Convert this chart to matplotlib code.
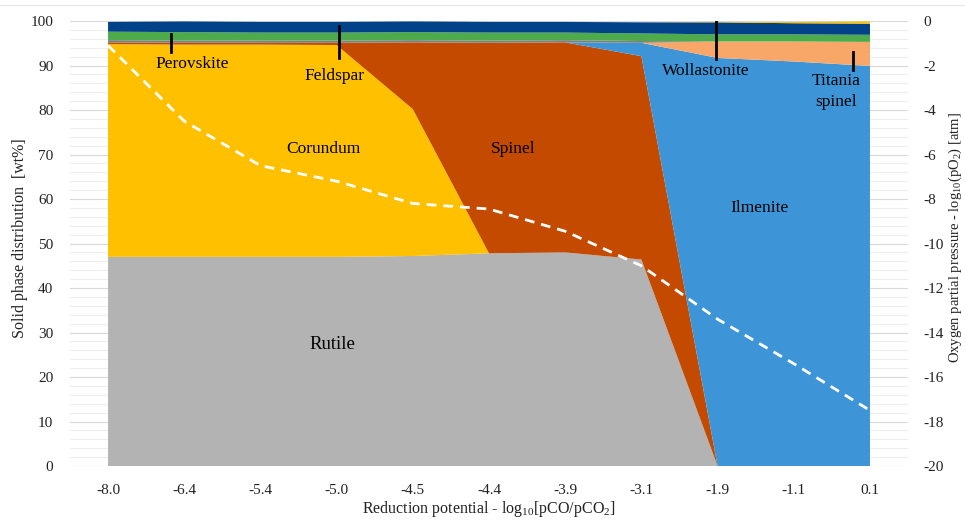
import matplotlib.pyplot as plt
from matplotlib.ticker import MultipleLocator
from matplotlib.lines import Line2D
import numpy as np

plt.rcParams['font.family'] = ['Liberation Serif', 'DejaVu Serif']
plt.rcParams['mathtext.fontset'] = 'custom'
plt.rcParams['mathtext.rm'] = 'Liberation Serif'
plt.rcParams['axes.unicode_minus'] = False

# reduction potential, log10(pCO/pCO2)
potential = ['-8.0', '-6.4', '-5.4', '-5.0', '-4.5', '-4.4', '-3.9', '-3.1', '-1.9', '-1.1', '0.1']

# solid phases, wt%
rutile = [47.0, 47.0, 47.0, 47.0, 47.2, 47.8, 48.0, 46.4, 0.0, 0.0, 0.0]
corundum = [47.8, 47.7, 47.7, 47.6, 33.0, 0.0, 0.0, 0.0, 0.0, 0.0, 0.0]
spinel = [0.4, 0.4, 0.4, 0.5, 15.0, 47.3, 47.2, 45.7, 0.0, 0.0, 0.0]
ilmenite = [0.0, 0.0, 0.0, 0.0, 0.0, 0.0, 0.0, 3.0, 91.7, 90.9, 89.9]
titania_spinel = [0.0, 0.0, 0.0, 0.0, 0.0, 0.0, 0.0, 0.0, 3.7, 4.5, 5.4]
minor = [0.5, 0.5, 0.5, 0.5, 0.5, 0.5, 0.5, 0.4, 0.0, 0.0, 0.0]
perovskite = [1.9, 1.9, 1.8, 1.8, 1.8, 1.8, 1.7, 1.7, 1.6, 1.6, 1.6]
feldspar = [2.2, 2.4, 2.4, 2.4, 2.4, 2.4, 2.4, 2.5, 2.7, 2.5, 2.5]
wollastonite = [0.0, 0.0, 0.0, 0.0, 0.0, 0.0, 0.0, 0.0, 0.1, 0.3, 0.5]

# oxygen partial pressure, log10(pO2) [atm]
log_po2 = [-1.1, -4.5, -6.5, -7.2, -8.2, -8.45, -9.45, -11.0, -13.4, -15.4, -17.5]

layers = [rutile, corundum, spinel, ilmenite, titania_spinel, minor,
          perovskite, feldspar, wollastonite]
colors = ['#b3b3b3', '#ffc000', '#c44a00', '#3d95d8', '#f8a769', '#7f7f7f',
          '#4eab4b', '#024289', '#ffc000']

fig = plt.figure(figsize=(9.65, 5.2), dpi=100)
ax = fig.add_axes([0.0725, 0.1038, 0.8685, 0.8558])
x = np.arange(len(potential))

ax.stackplot(x, layers, colors=colors, linewidth=0)
ax.set_xlim(-0.5, len(potential) - 0.5)
ax.set_ylim(0, 100)
ax.yaxis.set_major_locator(MultipleLocator(10))
ax.yaxis.set_minor_locator(MultipleLocator(2))
ax.yaxis.grid(True, which='major', color='#d9d9d9', lw=0.8)
ax.yaxis.grid(True, which='minor', color='#eeeeee', lw=0.8)
ax.set_axisbelow(True)
ax.set_xticks(x)
ax.set_xticklabels(potential)
ax.tick_params(which='both', length=0, labelsize=11, colors='#222222')
ax.tick_params(axis='x', pad=13)
ax.tick_params(axis='y', pad=12)
for s in ax.spines.values():
    s.set_visible(False)

ax2 = ax.twinx()
ax2.plot(x, log_po2, color='white', lw=2, ls=(0, (3.5, 2.5)))
ax2.set_ylim(-20, 0)
ax2.yaxis.set_major_locator(MultipleLocator(2))
ax2.tick_params(length=0, labelsize=11, colors='#222222', pad=11)
for s in ax2.spines.values():
    s.set_visible(False)

# phase names with leader marks
ax.text(1.10, 90.3, 'Perovskite', ha='center', va='center', fontsize=12.5)
ax.plot([0.82, 0.82], [93.1, 97.1], color='black', lw=2)
ax.text(2.97, 87.7, 'Feldspar', ha='center', va='center', fontsize=12.5)
ax.plot([3.03, 3.03], [91.7, 98.9], color='black', lw=2)
ax.text(7.84, 88.8, 'Wollastonite', ha='center', va='center', fontsize=12.5)
ax.plot([7.98, 7.98], [91.5, 100.0], color='black', lw=2)
ax.text(9.55, 86.5, 'Titania', ha='center', va='center', fontsize=12.5)
ax.text(9.55, 81.8, 'spinel', ha='center', va='center', fontsize=12.5)
ax.plot([9.78, 9.78], [89.0, 93.0], color='black', lw=2)
ax.text(2.83, 71.2, 'Corundum', ha='center', va='center', fontsize=12.5)
ax.text(5.32, 71.2, 'Spinel', ha='center', va='center', fontsize=12.5)
ax.text(8.55, 58.0, 'Ilmenite', ha='center', va='center', fontsize=12.5)
ax.text(2.95, 27.2, 'Rutile', ha='center', va='center', fontsize=13.5)

fig.text(489 / 965, 1 - 509 / 520, r'Reduction potential - log$_\mathrm{10}$[pCO/pCO$_\mathrm{2}$]',
         ha='center', va='center', fontsize=11.5, color='#222222')
fig.text(20 / 965, 1 - 238 / 520, 'Solid phase distribution  [wt%]', rotation=90,
         ha='center', va='center', fontsize=11.5, color='#222222')
fig.text(955 / 965, 1 - 238 / 520, r'Oxygen partial pressure - log$_\mathrm{10}$(pO$_\mathrm{2}$) [atm]',
         rotation=90, ha='center', va='center', fontsize=10.5, color='#222222')

# faint frame line along the top of the chart area
fig.add_artist(Line2D([0, 1], [1 - 5 / 520, 1 - 5 / 520], transform=fig.transFigure,
                      color='#e6e6e6', lw=0.8))

fig.savefig('out.png', dpi=100)
